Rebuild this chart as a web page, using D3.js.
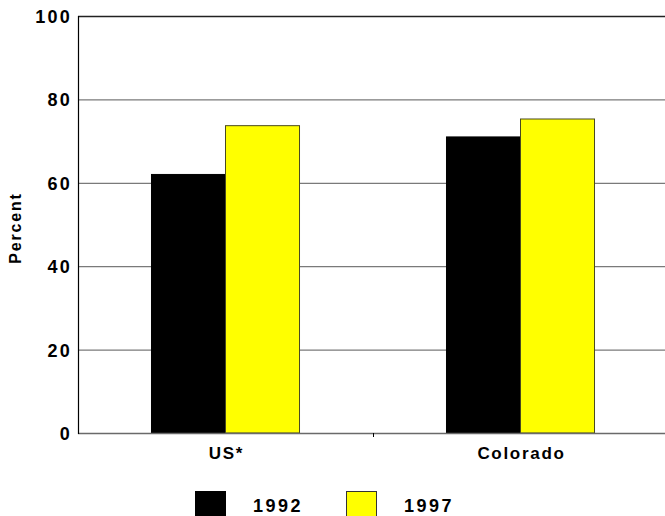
<!DOCTYPE html>
<html>
<head>
<meta charset="utf-8">
<script src="https://cdn.jsdelivr.net/npm/d3@7"></script>
<style>
  html, body { margin: 0; padding: 0; background: #fff; }
  svg { display: block; font-family: "Liberation Sans", Arial, sans-serif; font-weight: bold; }
</style>
</head>
<body>
<svg id="chart" width="665" height="516"></svg>
<script>
// Percent by area and survey year
const categories = ["US*", "Colorado"];
const years = ["1992", "1997"];
const values1992 = [62.0, 71.0];
const values1997 = [73.7, 75.3];
const yTicks = [0, 20, 40, 60, 80, 100];
const colors = ["#000000", "#ffff00"];

const svg = d3.select("#chart");
const plot = { left: 78, right: 668, top: 16, bottom: 433 };

const x0 = d3.scaleBand().domain(categories).range([plot.left, plot.right]).paddingInner(0).paddingOuter(0);
const x1 = d3.scaleBand().domain(years).range([0, x0.bandwidth()]).paddingInner(0).paddingOuter(0.993);
const y = d3.scaleLinear().domain([0, 100]).range([plot.bottom, plot.top]);
const color = d3.scaleOrdinal().domain(years).range(colors);

// horizontal gridlines
svg.append("g").selectAll("line")
  .data(yTicks.filter(d => d > 0))
  .join("line")
  .attr("x1", plot.left).attr("x2", 665)
  .attr("y1", d => y(d) + 0.5).attr("y2", d => y(d) + 0.5)
  .attr("stroke", d => d === 100 ? "#222" : "#7a7a7a")
  .attr("stroke-width", 1.3);

// y tick labels
const yAxis = svg.append("g")
  .attr("transform", `translate(${plot.left},0)`)
  .call(d3.axisLeft(y).tickValues(yTicks).tickSize(0).tickPadding(6).tickFormat(d3.format("d")));
yAxis.select(".domain").remove();
yAxis.selectAll("text")
  .attr("font-size", 18).attr("font-weight", "bold")
  .attr("letter-spacing", 2.2).attr("fill", "#000")
  .attr("dy", "0.36em")
  .attr("font-family", "Liberation Sans, Arial, sans-serif");

// bars
const rows = categories.map((c, i) => ({ cat: c, vals: [
  { year: years[0], v: values1992[i] },
  { year: years[1], v: values1997[i] }
]}));

const groups = svg.append("g").selectAll("g")
  .data(rows).join("g")
  .attr("transform", d => `translate(${x0(d.cat)},0)`);

groups.selectAll("rect")
  .data(d => d.vals).join("rect")
  .attr("x", d => x1(d.year))
  .attr("y", d => y(d.v))
  .attr("width", x1.bandwidth())
  .attr("height", d => y(0) - y(d.v))
  .attr("fill", d => color(d.year))
  .attr("stroke", d => d.year === "1997" ? "#4a4a20" : "#000")
  .attr("stroke-width", 1);

// bottom axis
svg.append("line")
  .attr("x1", plot.left).attr("x2", 665)
  .attr("y1", plot.bottom + 0.5).attr("y2", plot.bottom + 0.5)
  .attr("stroke", "#6a6a6a").attr("stroke-width", 1.5);

// category divider tick
svg.append("line")
  .attr("x1", x0("Colorado") + 0.5).attr("x2", x0("Colorado") + 0.5)
  .attr("y1", plot.bottom).attr("y2", plot.bottom + 4)
  .attr("stroke", "#000").attr("stroke-width", 1);

// left axis
svg.append("line")
  .attr("x1", plot.left + 0.5).attr("x2", plot.left + 0.5)
  .attr("y1", plot.top).attr("y2", plot.bottom + 1)
  .attr("stroke", "#000").attr("stroke-width", 1.2);

// category labels
svg.append("g").selectAll("text")
  .data(categories).join("text")
  .attr("x", d => x0(d) + x0.bandwidth() / 2 + 1)
  .attr("y", 459)
  .attr("text-anchor", "middle")
  .attr("font-size", 17)
  .attr("letter-spacing", 1.7)
  .text(d => d);

// y axis title
svg.append("text")
  .attr("transform", "translate(21,228) rotate(-90)")
  .attr("text-anchor", "middle")
  .attr("font-size", 16)
  .attr("letter-spacing", 1.8)
  .text("Percent");

// legend
const legendX = [195, 346];
const legend = svg.append("g").selectAll("g")
  .data(years).join("g")
  .attr("transform", (d, i) => `translate(${legendX[i]},491)`);
legend.append("rect")
  .attr("x", 0.5).attr("y", 0.5)
  .attr("width", 30).attr("height", 30)
  .attr("fill", d => color(d))
  .attr("stroke", d => d === "1997" ? "#333" : "#000");
legend.append("text")
  .attr("x", 58).attr("y", 20.5)
  .attr("font-size", 18)
  .attr("letter-spacing", 2.5)
  .text(d => d);
</script>
</body>
</html>
